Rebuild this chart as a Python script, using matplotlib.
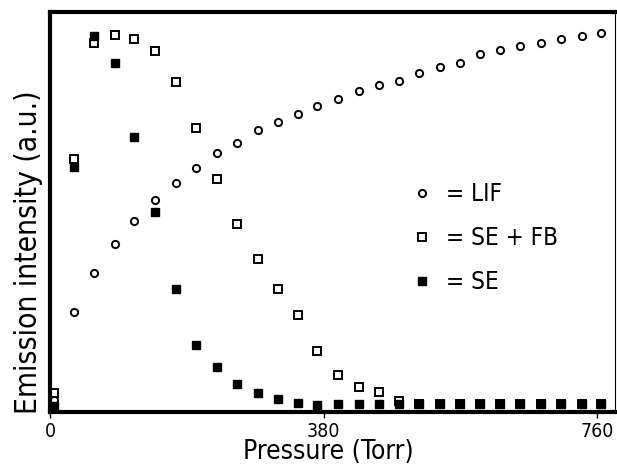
import matplotlib
matplotlib.use("Agg")
import matplotlib.pyplot as plt
from matplotlib.lines import Line2D

# Fuente angosta parecida a la del trazador
plt.rcParams['font.family'] = ['DejaVu Sans']
plt.rcParams['font.stretch'] = 'condensed'

# Presion (Torr) de cada medicion; el primer punto es casi vacio
presion = [5, 33, 61, 90, 117, 146, 175, 203, 232, 260, 289, 317, 344, 371,
           400, 429, 457, 485, 512, 542, 569, 597, 625, 653, 682, 710, 739, 766]

# Intensidades (unidades arbitrarias, escala 0-100)
lif = [3.0, 25.1, 34.8, 42.1, 47.8, 53.0, 57.3, 61.0, 64.8, 67.3, 70.5, 72.5,
       74.5, 76.5, 78.2, 80.3, 81.8, 82.8, 84.8, 86.3, 87.3, 89.4, 90.5, 91.5,
       92.2, 93.3, 94.1, 94.8]
se_fb = [4.8, 63.3, 92.3, 94.3, 93.3, 90.3, 82.5, 71.0, 58.3, 47.0, 38.2, 30.8,
         24.3, 15.3, 9.3, 6.3, 4.9, 2.8, 2.0, 2.0, 2.0, 2.0, 2.0, 2.0, 2.0,
         2.0, 2.0, 2.0]
se = [1.5, 61.3, 94.0, 87.3, 68.8, 50.0, 30.8, 16.8, 11.2, 6.9, 4.8, 3.3, 2.2,
      1.8, 1.9, 1.9, 1.9, 1.9, 1.9, 1.9, 1.9, 1.9, 1.9, 1.9, 1.9, 1.9, 1.9, 1.9]

xticks = [0, 380, 760]

fig = plt.figure(figsize=(6.17, 4.66), dpi=100)
ax = fig.add_axes([50 / 617, 1 - 412 / 466, 565 / 617, 400 / 466])

ax.plot(presion, lif, linestyle='none', marker='o', markersize=5.2,
        markerfacecolor='white', markeredgecolor='black', markeredgewidth=1.4)
ax.plot(presion, se_fb, linestyle='none', marker='s', markersize=5.2,
        markerfacecolor='white', markeredgecolor='black', markeredgewidth=1.4)
ax.plot(presion, se, linestyle='none', marker='s', markersize=5.2,
        markerfacecolor='black', markeredgecolor='black', markeredgewidth=1.0)

ax.set_xlim(0, 785)
ax.set_ylim(0, 100)
ax.set_xticks(xticks)
ax.set_xticklabels([str(t) for t in xticks])
ax.set_yticks([])
ax.tick_params(axis='x', direction='out', length=4, width=1, labelsize=14, pad=3)

for lado in ['left', 'bottom', 'top']:
    ax.spines[lado].set_linewidth(3)
ax.spines['right'].set_linewidth(0.8)

ax.set_xlabel('Pressure (Torr)', fontsize=19)
ax.xaxis.set_label_coords(0.492, -0.068)
ax.set_ylabel('Emission intensity (a.u.)', fontsize=21.5)
ax.yaxis.set_label_coords(-0.012, 0.40)

# Leyenda con los simbolos de cada serie
handles = [
    Line2D([], [], linestyle='none', marker='o', markersize=5.2,
           markerfacecolor='white', markeredgecolor='black', markeredgewidth=1.4),
    Line2D([], [], linestyle='none', marker='s', markersize=5.2,
           markerfacecolor='white', markeredgecolor='black', markeredgewidth=1.4),
    Line2D([], [], linestyle='none', marker='s', markersize=5.2,
           markerfacecolor='black', markeredgecolor='black'),
]
ax.legend(handles, ['= LIF', '= SE + FB', '= SE'], loc='upper left',
          bbox_to_anchor=(0.637, 0.574), frameon=False, fontsize=17.5,
          handlelength=1.0, handletextpad=0.5, labelspacing=0.82,
          borderpad=0, borderaxespad=0, numpoints=1)

fig.savefig('out.png', dpi=100)
